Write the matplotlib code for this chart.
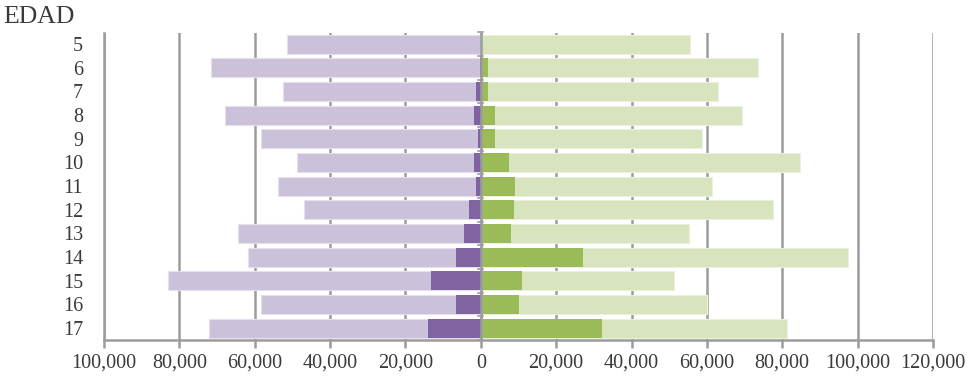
import numpy as np
import matplotlib
matplotlib.use("Agg")
import matplotlib.pyplot as plt
from matplotlib.ticker import FuncFormatter

# edades y poblacion por sexo (izquierda: total / subgrupo, derecha: total / subgrupo)
edades = [5, 6, 7, 8, 9, 10, 11, 12, 13, 14, 15, 16, 17]
izq_total = [51300, 71700, 52600, 68000, 58400, 48900, 53800, 46800, 64400, 61900, 83100, 58300, 72200]
izq_sub = [0, 300, 1300, 1800, 700, 1900, 1400, 3100, 4500, 6600, 13300, 6500, 14100]
der_total = [55600, 73600, 63000, 69400, 58600, 84600, 61400, 77500, 55200, 97500, 51400, 60000, 81200]
der_sub = [0, 1900, 1900, 3700, 3700, 7400, 9000, 8800, 8100, 27000, 10900, 10100, 32100]

xticks = list(range(-100000, 120001, 20000))

plt.rcParams['font.family'] = ['Liberation Serif', 'DejaVu Serif']

fig = plt.figure(figsize=(9.69, 3.81), dpi=100)
ax = fig.add_axes([0.1073, 0.1076, 0.8555, 0.8058])

y = np.arange(len(edades))
h = 0.8
grid_c = '#9c9c9c'

ax.barh(y, -np.array(izq_total), height=h, color='#ccc1da', edgecolor='#e6e0ed', linewidth=0.8, zorder=2)
ax.barh(y, -np.array(izq_sub), height=h, color='#8064a2', linewidth=0, zorder=3)
ax.barh(y, der_total, height=h, color='#d7e4bd', edgecolor='#ebf1de', linewidth=0.8, zorder=2)
ax.barh(y, der_sub, height=h, color='#9bbb59', linewidth=0, zorder=3)

ax.set_xlim(-100000, 120000)
ax.set_ylim(len(edades) - 0.5, -0.47)

ax.set_xticks(xticks)
ax.xaxis.set_major_formatter(FuncFormatter(lambda v, p: f"{abs(int(v)):,}"))
ax.set_yticks(y)
ax.set_yticklabels([str(e) for e in edades])

ax.grid(axis='x', color=grid_c, linewidth=1.8, zorder=0)
ax.set_axisbelow(True)

# eje de categorias en cero con sus marcas
ax.axvline(0, color=grid_c, linewidth=1.8, zorder=4)
for b in np.arange(-0.5, len(edades), 1.0):
    ax.plot([-700, 700], [b, b], color=grid_c, linewidth=1.2, zorder=4, clip_on=False)

for s in ['top', 'right']:
    ax.spines[s].set_visible(False)
ax.spines['left'].set_color(grid_c)
ax.spines['left'].set_linewidth(1.8)
ax.spines['bottom'].set_color(grid_c)
ax.spines['bottom'].set_linewidth(1.8)

ax.tick_params(axis='x', direction='out', length=6, width=1.8, color=grid_c,
               labelsize=14.5, labelcolor='#3a3a3a', pad=4)
ax.tick_params(axis='y', length=0, labelsize=14.5, labelcolor='#3a3a3a', pad=15)

fig.text(0.003, 0.955, 'EDAD', fontsize=18.5, color='#3a3a3a', ha='left', va='center')

fig.savefig('out.png', dpi=100)
